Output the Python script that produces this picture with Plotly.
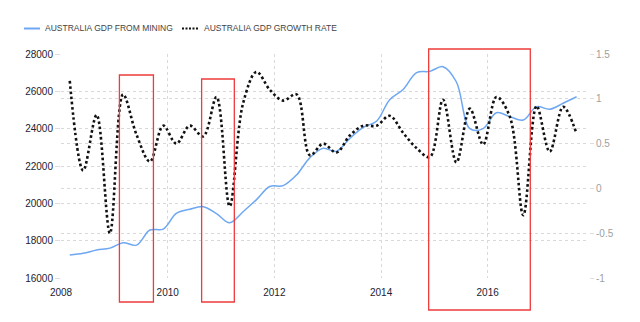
import pandas as pd
import plotly.graph_objects as go

# Quarterly observations, Q1 2008 .. Q3 2017
quarters = pd.date_range("2008-03-01", periods=39, freq="3MS")

# Australia GDP from mining (AUD million, left axis)
gdp_mining = [
    17230, 17320, 17500, 17600, 17890, 17760, 18570, 18620, 19460, 19680,
    19820, 19450, 18960, 19550, 20200, 20900, 20950, 21520, 22450, 22950,
    22780, 23480, 24070, 24400, 25550, 26100, 27000, 27070, 27320, 26500,
    24000, 24000, 24850, 24640, 24460, 25180, 25040, 25360, 25710,
]

# Australia GDP growth rate (% q/q, right axis)
gdp_growth = [
    1.20, 0.20, 0.82, -0.50, 1.05, 0.60, 0.30, 0.70, 0.50, 0.70,
    0.58, 1.02, -0.20, 0.95, 1.30, 1.10, 0.98, 1.05, 0.37, 0.50,
    0.40, 0.59, 0.70, 0.70, 0.81, 0.62, 0.45, 0.35, 0.99, 0.29,
    0.89, 0.49, 1.02, 0.80, -0.30, 0.92, 0.41, 0.91, 0.61,
]

left_ticks = [16000, 18000, 20000, 22000, 24000, 26000, 28000]
right_ticks = [-1, -0.5, 0, 0.5, 1, 1.5]
right_labels = ["-1", "-0.5", "0", "0.5", "1", "1.5"]
year_ticks = ["2008-01-01", "2010-01-01", "2012-01-01", "2014-01-01", "2016-01-01"]
year_labels = ["2008", "2010", "2012", "2014", "2016"]

# Highlighted periods (start, end, top/bottom in pixels of the page)
highlights = [
    ("2009-02-04", "2009-09-25", 75, 302),
    ("2010-08-21", "2011-04-02", 79, 302),
    ("2014-11-23", "2016-10-19", 49, 310),
]

series_names = ["AUSTRALIA GDP FROM MINING", "AUSTRALIA GDP GROWTH RATE"]

W, H = 640, 322
M_L, M_R, M_T, M_B = 61, 51, 54, 44
PW, PH = W - M_L - M_R, H - M_T - M_B


def px_x(px):
    return (px - M_L) / PW


def px_y(py):
    return (H - M_B - py) / PH


BLUE = "#6ea7f2"
FONT = "Liberation Sans, Arial, sans-serif"

fig = go.Figure()
fig.add_trace(go.Scatter(
    x=quarters, y=gdp_mining, mode="lines", name=series_names[0],
    line=dict(color=BLUE, width=1.5, shape="spline", smoothing=1),
    yaxis="y", hoverinfo="skip",
))
fig.add_trace(go.Scatter(
    x=quarters, y=gdp_growth, mode="lines", name=series_names[1],
    line=dict(color="#111111", width=2.6, dash="2.6px,2.6px",
              shape="spline", smoothing=1),
    yaxis="y2", hoverinfo="skip",
))

shapes = []
for x0, x1, top, bottom in highlights:
    shapes.append(dict(
        type="rect", xref="x", yref="paper", x0=x0, x1=x1,
        y0=px_y(bottom), y1=px_y(top),
        line=dict(color="#ee3b3b", width=1.3), fillcolor="rgba(0,0,0,0)",
        layer="above",
    ))

# Legend drawn along the top edge
shapes.append(dict(type="line", xref="paper", yref="paper",
                   x0=px_x(24), x1=px_x(40), y0=px_y(28.5), y1=px_y(28.5),
                   line=dict(color=BLUE, width=2)))
shapes.append(dict(type="line", xref="paper", yref="paper",
                   x0=px_x(182), x1=px_x(199), y0=px_y(28.5), y1=px_y(28.5),
                   line=dict(color="#111111", width=2, dash="2px,1.5px")))
annotations = [
    dict(text=series_names[0], xref="paper", yref="paper", x=px_x(43), y=px_y(28.5),
         xanchor="left", yanchor="middle", showarrow=False,
         font=dict(family=FONT, size=8.5, color="#444444")),
    dict(text=series_names[1], xref="paper", yref="paper", x=px_x(202), y=px_y(28.5),
         xanchor="left", yanchor="middle", showarrow=False,
         font=dict(family=FONT, size=8.5, color="#444444")),
]

grid = dict(showgrid=True, gridcolor="#d9d9d9", gridwidth=1, griddash="dot",
            zeroline=False, showline=False)

fig.update_layout(
    width=W, height=H,
    margin=dict(l=M_L, r=M_R, t=M_T, b=M_B),
    paper_bgcolor="white", plot_bgcolor="white",
    showlegend=False,
    shapes=shapes, annotations=annotations,
    xaxis=dict(
        type="date", range=["2008-01-01", "2017-11-25"],
        tickvals=year_ticks, ticktext=year_labels,
        ticks="outside", ticklen=5, tickcolor="rgba(0,0,0,0)",
        tickfont=dict(family=FONT, size=10, color="#222233"),
        **grid,
    ),
    yaxis=dict(
        range=[16000, 28000], tickvals=left_ticks, tickformat="d",
        ticks="outside", ticklen=5, tickcolor="#dddddd",
        tickfont=dict(family=FONT, size=10, color="#222233"),
        **grid,
    ),
    yaxis2=dict(
        range=[-1, 1.5], tickvals=right_ticks, ticktext=right_labels,
        overlaying="y", side="right",
        ticks="outside", ticklen=4, tickcolor="#dddddd",
        tickfont=dict(family=FONT, size=10, color="#a0a0a0"),
        **grid,
    ),
)

fig.write_html("out.html")
